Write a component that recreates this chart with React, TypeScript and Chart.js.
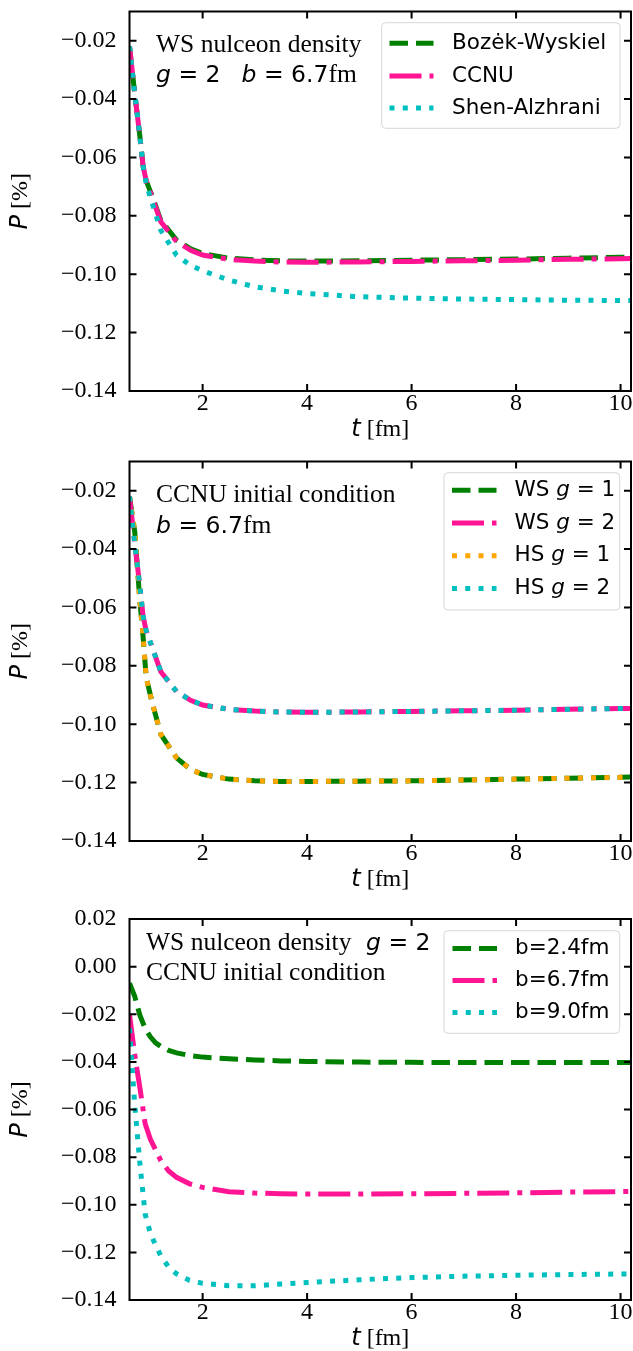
import React, { useEffect, useRef } from "react";
import { Chart, registerables } from "chart.js";

Chart.register(...registerables);

// ---------------- data ----------------
// Panel 1: WS nucleon density, g = 2, b = 6.7 fm
const time1 = [0.6, 0.7, 0.8, 0.86, 0.92, 1.04, 1.2, 1.5, 1.77, 2, 2.5, 3, 3.5, 4, 5, 6, 7, 8, 9, 10, 10.2];
const bozekWyskiel = [-0.022, -0.038, -0.053, -0.063, -0.068, -0.0735, -0.0815, -0.0883, -0.0913, -0.0929, -0.0945, -0.0951, -0.0954, -0.0955, -0.0954, -0.0952, -0.095, -0.0948, -0.0945, -0.0942, -0.0942];
const ccnu = [-0.022, -0.038, -0.053, -0.063, -0.068, -0.074, -0.082, -0.0888, -0.0918, -0.0934, -0.0949, -0.0955, -0.0958, -0.0959, -0.0958, -0.0956, -0.0954, -0.0952, -0.0949, -0.0947, -0.0946];
const shenAlzhrani = [-0.022, -0.038, -0.053, -0.063, -0.069, -0.076, -0.085, -0.0935, -0.097, -0.0988, -0.102, -0.1043, -0.1057, -0.1066, -0.1077, -0.1082, -0.1085, -0.1087, -0.1089, -0.109, -0.109];

// Panel 2: CCNU initial condition, b = 6.7 fm
const time2 = [0.6, 0.7, 0.8, 0.86, 0.92, 1.04, 1.2, 1.5, 1.77, 2, 2.5, 3, 3.5, 4, 5, 6, 7, 8, 9, 10, 10.2];
const wsG1 = [-0.022, -0.034, -0.058, -0.07, -0.084, -0.093, -0.1035, -0.1115, -0.1155, -0.1172, -0.1188, -0.1194, -0.1196, -0.1196, -0.1195, -0.1194, -0.1191, -0.1188, -0.1185, -0.1182, -0.1181];
const wsG2 = [-0.022, -0.038, -0.053, -0.063, -0.068, -0.074, -0.082, -0.0888, -0.0918, -0.0934, -0.0949, -0.0955, -0.0958, -0.0959, -0.0958, -0.0956, -0.0954, -0.0952, -0.0949, -0.0946, -0.0946];
const hsG1 = [-0.022, -0.034, -0.058, -0.07, -0.084, -0.093, -0.1035, -0.1115, -0.1155, -0.1172, -0.1188, -0.1194, -0.1196, -0.1196, -0.1195, -0.1194, -0.1191, -0.1188, -0.1185, -0.1182, -0.1181];
const hsG2 = [-0.022, -0.038, -0.053, -0.063, -0.068, -0.074, -0.082, -0.0888, -0.0918, -0.0934, -0.0949, -0.0955, -0.0958, -0.0959, -0.0958, -0.0956, -0.0954, -0.0952, -0.0949, -0.0946, -0.0946];

// Panel 3: WS nucleon density, g = 2, CCNU initial condition
const time3 = [0.6, 0.7, 0.8, 0.9, 1.0, 1.1, 1.2, 1.35, 1.5, 1.75, 2, 2.5, 3, 3.5, 4, 5, 6, 7, 8, 9, 10, 10.2];
const b24 = [-0.007, -0.0125, -0.0205, -0.026, -0.0295, -0.032, -0.0335, -0.0352, -0.0362, -0.0373, -0.038, -0.0387, -0.0392, -0.0396, -0.0398, -0.0401, -0.0402, -0.0403, -0.0403, -0.0403, -0.0403, -0.0403];
const b67 = [-0.02, -0.037, -0.051, -0.066, -0.0725, -0.077, -0.0815, -0.0858, -0.0885, -0.0912, -0.0927, -0.0945, -0.0951, -0.0954, -0.0955, -0.0955, -0.0954, -0.0952, -0.095, -0.0947, -0.0945, -0.0944];
const b90 = [-0.026, -0.058, -0.083, -0.104, -0.112, -0.117, -0.1215, -0.1262, -0.129, -0.1318, -0.133, -0.134, -0.134, -0.1333, -0.1327, -0.1315, -0.1306, -0.13, -0.1296, -0.1293, -0.1291, -0.1291];

const xTicks = [2, 4, 6, 8, 10];
const yTicksTop = [-0.14, -0.12, -0.1, -0.08, -0.06, -0.04, -0.02];
const yTicksBottom = [-0.14, -0.12, -0.1, -0.08, -0.06, -0.04, -0.02, 0.0, 0.02];
const xRange = [0.6, 10.2];
const yRangeTop = [-0.14, -0.01];
const yRangeBottom = [-0.14, 0.02];

// ---------------- styles ----------------
const GREEN = "#008000";
const PINK = "#ff1493";
const CYAN = "#00bfbf";
const ORANGE = "#ffa500";
const DASHED = [18.5, 8];
const DASHDOT = [32, 8, 5, 8];
const DOTTED = [5, 8.25];
const LW = 5;

const SERIF = "'Liberation Serif', 'Times New Roman', serif";
const SANS = "'DejaVu Sans', sans-serif";

type Seg = { t: string; k: "serif" | "sans" | "it" };

function fontOf(k: string, serifSize: number, mathSize: number) {
  if (k === "serif") return `${serifSize}px ${SERIF}`;
  if (k === "it") return `italic ${mathSize}px ${SANS}`;
  return `${mathSize}px ${SANS}`;
}

function richWidth(ctx: CanvasRenderingContext2D, segs: Seg[], ss: number, ms: number) {
  let w = 0;
  for (const s of segs) {
    ctx.font = fontOf(s.k, ss, ms);
    w += ctx.measureText(s.t).width;
  }
  return w;
}

function drawRich(
  ctx: CanvasRenderingContext2D,
  segs: Seg[],
  x: number,
  y: number,
  ss: number,
  ms: number,
  center = false,
  baseline: CanvasTextBaseline = "alphabetic"
) {
  let cx = center ? x - richWidth(ctx, segs, ss, ms) / 2 : x;
  ctx.textBaseline = baseline;
  ctx.textAlign = "left";
  ctx.fillStyle = "#000";
  for (const s of segs) {
    ctx.font = fontOf(s.k, ss, ms);
    ctx.fillText(s.t, cx, y);
    cx += ctx.measureText(s.t).width;
  }
}

const fmtY = (v: number) => {
  const s = Math.abs(v).toFixed(2);
  return v < -1e-9 ? "\u2212" + s : s;
};

type Series = { label: Seg[]; time: number[]; values: number[]; color: string; dash: number[] };
type PanelCfg = {
  height: number;
  padTop: number;
  xAxisH: number;
  yRange: number[];
  yTicks: number[];
  xTitleY: number;
  series: Series[];
  legend: { box: number[]; rows: number[]; handle: number[]; textX: number };
  notes: { x: number; y: number; segs: Seg[] }[];
};

const panels: PanelCfg[] = [
  {
    height: 450,
    padTop: 11.5,
    xAxisH: 59,
    yRange: yRangeTop,
    yTicks: yTicksTop,
    xTitleY: 436,
    series: [
      { label: [{ t: "Boz\u0117k-Wyskiel", k: "sans" }], time: time1, values: bozekWyskiel, color: GREEN, dash: DASHED },
      { label: [{ t: "CCNU", k: "sans" }], time: time1, values: ccnu, color: PINK, dash: DASHDOT },
      { label: [{ t: "Shen-Alzhrani", k: "sans" }], time: time1, values: shenAlzhrani, color: CYAN, dash: DOTTED },
    ],
    legend: { box: [381.7, 22.7, 620, 128.3], rows: [43.3, 76, 108], handle: [389.5, 433.5], textX: 452 },
    notes: [
      { x: 156, y: 51.7, segs: [{ t: "WS nulceon density", k: "serif" }] },
      { x: 156, y: 81.7, segs: [{ t: "g", k: "it" }, { t: " = 2", k: "sans" }] },
      { x: 241.5, y: 81.7, segs: [{ t: "b", k: "it" }, { t: " = 6.7", k: "sans" }, { t: "fm", k: "serif" }] },
    ],
  },
  {
    height: 450,
    padTop: 11.5,
    xAxisH: 59,
    yRange: yRangeTop,
    yTicks: yTicksTop,
    xTitleY: 436,
    series: [
      { label: [{ t: "WS ", k: "sans" }, { t: "g", k: "it" }, { t: " = 1", k: "sans" }], time: time2, values: wsG1, color: GREEN, dash: DASHED },
      { label: [{ t: "WS ", k: "sans" }, { t: "g", k: "it" }, { t: " = 2", k: "sans" }], time: time2, values: wsG2, color: PINK, dash: DASHDOT },
      { label: [{ t: "HS ", k: "sans" }, { t: "g", k: "it" }, { t: " = 1", k: "sans" }], time: time2, values: hsG1, color: ORANGE, dash: DOTTED },
      { label: [{ t: "HS ", k: "sans" }, { t: "g", k: "it" }, { t: " = 2", k: "sans" }], time: time2, values: hsG2, color: CYAN, dash: DOTTED },
    ],
    legend: { box: [444, 22.7, 619.7, 160], rows: [40.3, 73, 105.7, 138.4], handle: [452, 496.5], textX: 514.5 },
    notes: [
      { x: 156, y: 51.7, segs: [{ t: "CCNU initial condition", k: "serif" }] },
      { x: 156, y: 83.3, segs: [{ t: "b", k: "it" }, { t: " = 6.7", k: "sans" }, { t: "fm", k: "serif" }] },
    ],
  },
  {
    height: 451,
    padTop: 19,
    xAxisH: 51,
    yRange: yRangeBottom,
    yTicks: yTicksBottom,
    xTitleY: 445,
    series: [
      { label: [{ t: "b=2.4fm", k: "sans" }], time: time3, values: b24, color: GREEN, dash: DASHED },
      { label: [{ t: "b=6.7fm", k: "sans" }], time: time3, values: b67, color: PINK, dash: DASHDOT },
      { label: [{ t: "b=9.0fm", k: "sans" }], time: time3, values: b90, color: CYAN, dash: DOTTED },
    ],
    legend: { box: [444, 30.7, 619.7, 133.3], rows: [48.5, 80.5, 112.5], handle: [452.5, 497], textX: 515 },
    notes: [
      { x: 146, y: 50, segs: [{ t: "WS nulceon density", k: "serif" }] },
      { x: 366, y: 50, segs: [{ t: "g", k: "it" }, { t: " = 2", k: "sans" }] },
      { x: 146, y: 80, segs: [{ t: "CCNU initial condition", k: "serif" }] },
    ],
  },
];

function roundRect(ctx: CanvasRenderingContext2D, x0: number, y0: number, x1: number, y1: number, r: number) {
  ctx.beginPath();
  ctx.moveTo(x0 + r, y0);
  ctx.lineTo(x1 - r, y0);
  ctx.quadraticCurveTo(x1, y0, x1, y0 + r);
  ctx.lineTo(x1, y1 - r);
  ctx.quadraticCurveTo(x1, y1, x1 - r, y1);
  ctx.lineTo(x0 + r, y1);
  ctx.quadraticCurveTo(x0, y1, x0, y1 - r);
  ctx.lineTo(x0, y0 + r);
  ctx.quadraticCurveTo(x0, y0, x0 + r, y0);
  ctx.closePath();
}

function makeDecor(cfg: PanelCfg) {
  return {
    id: "decor",
    afterDraw(chart: any) {
      const ctx: CanvasRenderingContext2D = chart.ctx;
      const { left, right, top, bottom } = chart.chartArea;
      const xs = chart.scales.x;
      const ys = chart.scales.y;
      ctx.save();
      // frame
      ctx.strokeStyle = "#000";
      ctx.lineWidth = 2;
      ctx.setLineDash([]);
      ctx.strokeRect(left, top, right - left, bottom - top);
      // inward ticks
      const TL = 7;
      ctx.beginPath();
      for (const v of xTicks) {
        const px = xs.getPixelForValue(v);
        ctx.moveTo(px, bottom);
        ctx.lineTo(px, bottom - TL);
        ctx.moveTo(px, top);
        ctx.lineTo(px, top + TL);
      }
      for (const v of cfg.yTicks) {
        const py = ys.getPixelForValue(v);
        ctx.moveTo(left, py);
        ctx.lineTo(left + TL, py);
        ctx.moveTo(right, py);
        ctx.lineTo(right - TL, py);
      }
      ctx.stroke();
      // axis titles
      drawRich(ctx, [{ t: "t", k: "it" }, { t: " [fm]", k: "serif" }], (left + right) / 2, cfg.xTitleY, 24, 24, true);
      ctx.save();
      ctx.translate(27, (top + bottom) / 2);
      ctx.rotate(-Math.PI / 2);
      drawRich(ctx, [{ t: "P", k: "it" }, { t: " [%]", k: "serif" }], 0, 0, 24, 24, true);
      ctx.restore();
      // annotations
      for (const n of cfg.notes) drawRich(ctx, n.segs, n.x, n.y, 25.5, 23.5);
      // legend
      const lg = cfg.legend;
      roundRect(ctx, lg.box[0], lg.box[1], lg.box[2], lg.box[3], 4);
      ctx.fillStyle = "rgba(255,255,255,0.8)";
      ctx.fill();
      ctx.strokeStyle = "rgba(204,204,204,0.8)";
      ctx.lineWidth = 1;
      ctx.stroke();
      cfg.series.forEach((s, i) => {
        const y = lg.rows[i];
        ctx.beginPath();
        ctx.strokeStyle = s.color;
        ctx.lineWidth = LW;
        ctx.lineCap = "butt";
        ctx.setLineDash(s.dash);
        ctx.moveTo(lg.handle[0], y);
        ctx.lineTo(lg.handle[1], y);
        ctx.stroke();
        ctx.setLineDash([]);
        drawRich(ctx, s.label, lg.textX, y, 21.5, 21.5, false, "middle");
      });
      ctx.restore();
    },
  };
}

function Panel({ cfg, top }: { cfg: PanelCfg; top: number }) {
  const ref = useRef<HTMLCanvasElement>(null);
  useEffect(() => {
    const n = cfg.series.length;
    const chart = new Chart(ref.current as HTMLCanvasElement, {
      type: "line",
      data: {
        datasets: cfg.series.map((s, i) => ({
          label: s.label.map((g) => g.t).join(""),
          data: s.time.map((t, j) => ({ x: t, y: s.values[j] })),
          borderColor: s.color,
          backgroundColor: s.color,
          borderWidth: LW,
          borderDash: s.dash,
          borderCapStyle: "butt",
          pointRadius: 0,
          pointHoverRadius: 0,
          tension: 0,
          fill: false,
          clip: 0,
          order: n - i,
        })),
      },
      options: {
        animation: false,
        responsive: false,
        devicePixelRatio: 1,
        events: [],
        layout: { padding: { top: cfg.padTop, right: 2, left: 0, bottom: 0 } },
        plugins: { legend: { display: false }, tooltip: { enabled: false }, title: { display: false } },
        scales: {
          x: {
            type: "linear",
            min: xRange[0],
            max: xRange[1],
            grid: { display: false, drawTicks: false },
            border: { display: false },
            afterBuildTicks: (sc: any) => {
              sc.ticks = xTicks.map((v) => ({ value: v }));
            },
            afterFit: (sc: any) => {
              sc.height = cfg.xAxisH;
              sc.paddingLeft = 0;
              sc.paddingRight = 0;
            },
            ticks: {
              autoSkip: false,
              maxRotation: 0,
              minRotation: 0,
              padding: 0,
              color: "#000",
              font: { family: SERIF, size: 24, lineHeight: 1.1 },
              callback: (v: any) => String(v),
            },
          },
          y: {
            type: "linear",
            min: cfg.yRange[0],
            max: cfg.yRange[1],
            grid: { display: false, drawTicks: false },
            border: { display: false },
            afterBuildTicks: (sc: any) => {
              sc.ticks = cfg.yTicks.map((v) => ({ value: v }));
            },
            afterFit: (sc: any) => {
              sc.width = 129.5;
              sc.paddingTop = 0;
              sc.paddingBottom = 0;
            },
            ticks: {
              autoSkip: false,
              padding: 13,
              color: "#000",
              font: { family: SERIF, size: 24 },
              callback: (v: any) => fmtY(Number(v)),
            },
          },
        },
      },
      plugins: [makeDecor(cfg)],
    } as any);
    return () => chart.destroy();
  }, [cfg]);
  return (
    <canvas
      ref={ref}
      width={633}
      height={cfg.height}
      style={{ position: "absolute", left: 0, top, width: 633, height: cfg.height, display: "block" }}
    />
  );
}

export default function App() {
  return (
    <div style={{ position: "absolute", left: 0, top: 0, width: 633, height: 1351, background: "#fff" }}>
      <Panel cfg={panels[0]} top={0} />
      <Panel cfg={panels[1]} top={450} />
      <Panel cfg={panels[2]} top={900} />
    </div>
  );
}
